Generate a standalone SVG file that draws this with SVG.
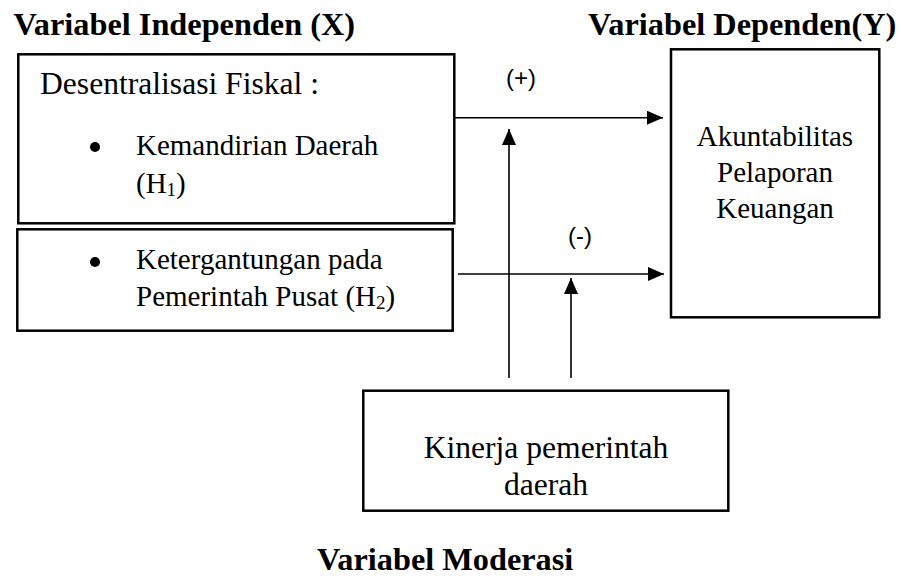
<svg xmlns="http://www.w3.org/2000/svg" width="901" height="578" viewBox="0 0 901 578">
<style>
.box{fill:#fff;stroke:#000;stroke-width:2.5}
.t{font-family:"Liberation Serif","Times New Roman",serif;font-size:29px;fill:#000}
.L{font-size:31.6px}
.h{font-family:"Liberation Serif","Times New Roman",serif;font-size:32.3px;font-weight:bold;fill:#000}
.s{font-family:"Liberation Sans",Arial,sans-serif;font-size:24px;fill:#000}
.c{stroke:#000;stroke-width:1.6;fill:none}
.m{text-anchor:middle}
</style>
<defs>
<marker id="arr" markerUnits="userSpaceOnUse" markerWidth="16" markerHeight="14" refX="16" refY="7" orient="auto">
<path d="M0,0 L16,7 L0,14 z" fill="#000"/>
</marker>
</defs>
<text class="h" x="13.5" y="35">Variabel Independen (X)</text>
<text class="h" x="588" y="35">Variabel Dependen(Y)</text>
<text class="h" x="317" y="570">Variabel Moderasi</text>
<g id="x1">
<rect class="box" x="18.3" y="54.3" width="436" height="169"/>
<text class="t L" x="40" y="94">Desentralisasi Fiskal :</text>
<circle cx="95" cy="147" r="5" fill="#000"/>
<text class="t" x="136" y="155">Kemandirian Daerah</text>
<text class="t" x="136" y="193">(H<tspan font-size="19" dy="3">1</tspan><tspan dy="-3">)</tspan></text>
</g>
<g id="x2">
<rect class="box" x="17.3" y="229.3" width="435.4" height="101.4"/>
<circle cx="95" cy="262" r="5" fill="#000"/>
<text class="t" x="136" y="269">Ketergantungan pada</text>
<text class="t" x="136" y="306">Pemerintah Pusat (H<tspan font-size="19" dy="3">2</tspan><tspan dy="-3">)</tspan></text>
</g>
<g id="y">
<rect class="box" x="671" y="49.3" width="208.3" height="268"/>
<text class="t m" x="775" y="146">Akuntabilitas</text>
<text class="t m" x="775" y="182">Pelaporan</text>
<text class="t m" x="775" y="218">Keuangan</text>
</g>
<g id="mod">
<rect class="box" x="363.3" y="390.7" width="365" height="120"/>
<text class="t L m" x="546" y="458">Kinerja pemerintah</text>
<text class="t L m" x="546" y="495">daerah</text>
</g>
<g id="connectors">
<line class="c" x1="455" y1="117.7" x2="663" y2="117.7" marker-end="url(#arr)"/>
<line class="c" x1="458" y1="274" x2="664" y2="274" marker-end="url(#arr)"/>
<line class="c" x1="509" y1="378" x2="509" y2="129" marker-end="url(#arr)"/>
<line class="c" x1="571" y1="378" x2="571" y2="278" marker-end="url(#arr)"/>
<text class="s m" x="521" y="86">(+)</text>
<text class="s m" x="580" y="244">(-)</text>
</g>
</svg>
